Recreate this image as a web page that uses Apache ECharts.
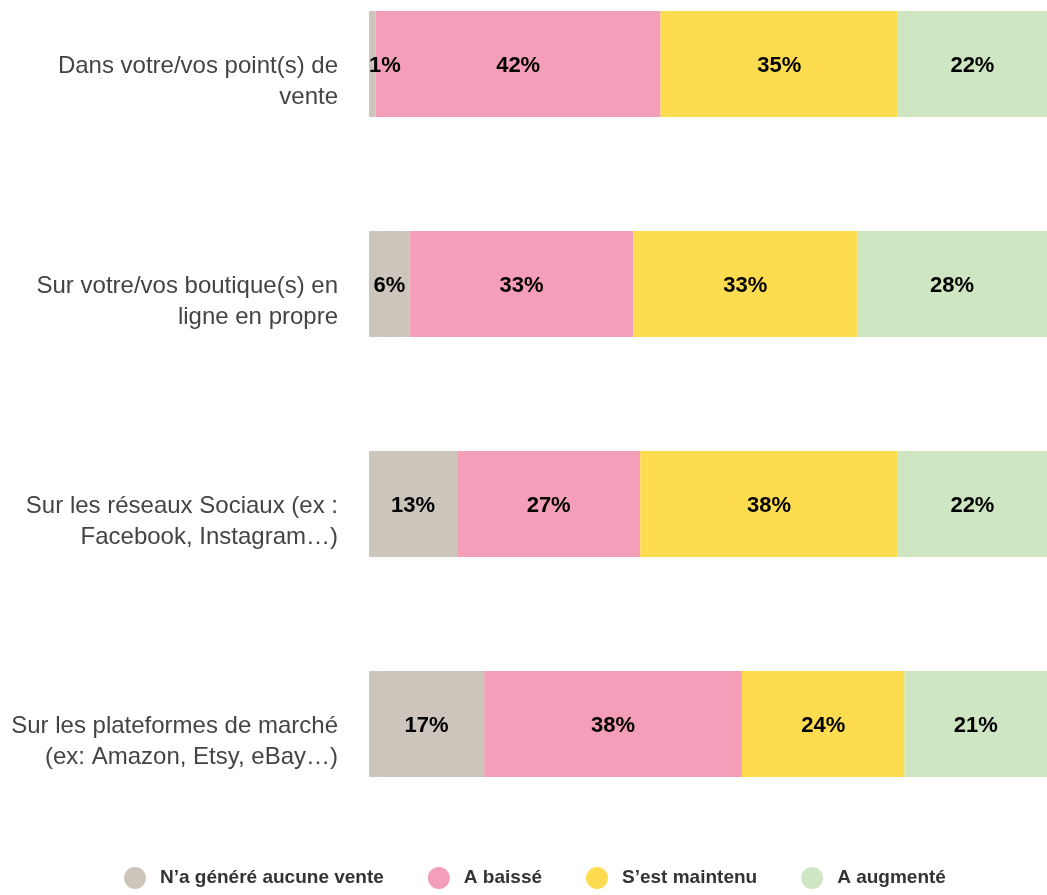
<!DOCTYPE html>
<html>
<head>
<meta charset="utf-8">
<script src="https://cdn.jsdelivr.net/npm/echarts@6/dist/echarts.min.js"></script>
<style>
  html, body { margin: 0; padding: 0; background: #fff; }
  #chart { width: 1047px; height: 895px; }
</style>
</head>
<body>
<div id="chart"></div>
<script>
// catégories (de haut en bas)
const categories = [
  'Dans votre/vos point(s) de\nvente',
  'Sur votre/vos boutique(s) en\nligne en propre',
  'Sur les réseaux Sociaux (ex :\nFacebook, Instagram…)',
  'Sur les plateformes de marché\n(ex: Amazon, Etsy, eBay…)'
];

const seriesNames = ['N’a généré aucune vente', 'A baissé', 'S’est maintenu', 'A augmenté'];
const seriesColors = ['#CCC5BB', '#F59EB9', '#FEDC50', '#CFE6C2'];

// valeurs en %
const aucune = [1, 6, 13, 17];
const baisse = [42, 33, 27, 38];
const maintenu = [35, 33, 38, 24];
const augmente = [22, 28, 22, 21];

const allValues = [aucune, baisse, maintenu, augmente];

const boldFont = '"Liberation Sans Narrow", "Liberation Sans", Arial, sans-serif';

function makeSeries(i) {
  return {
    name: seriesNames[i],
    type: 'bar',
    stack: 'total',
    barWidth: 106,
    clip: false,
    itemStyle: { color: seriesColors[i] },
    label: {
      show: true,
      position: 'inside',
      offset: [0, 2],
      formatter: '{c}%',
      color: '#000',
      fontFamily: boldFont,
      fontWeight: 'bold',
      fontSize: 22
    },
    emphasis: { disabled: true },
    // le 1% est collé au bord gauche
    data: allValues[i].map(v => v < 3
      ? { value: v, label: { position: 'insideLeft', distance: 0 } }
      : v)
  };
}

// les libellés sont un peu plus bas que le centre des barres -> 2e grille décalée
let myChart = echarts.init(document.getElementById('chart'));
myChart.setOption({
  animation: false,
  grid: [
    { left: 369, right: 0, top: 64, height: 660 },
    { left: 369, right: 0, top: 82, height: 660 }
  ],
  xAxis: [
    { type: 'value', min: 0, max: 100, show: false, gridIndex: 0 },
    { type: 'value', min: 0, max: 100, show: false, gridIndex: 1 }
  ],
  yAxis: [
    {
      type: 'category',
      gridIndex: 0,
      inverse: true,
      boundaryGap: false,
      data: categories,
      axisLine: { show: false },
      axisTick: { show: false },
      splitLine: { show: false },
      axisLabel: { show: false }
    },
    {
      type: 'category',
      gridIndex: 1,
      inverse: true,
      boundaryGap: false,
      data: categories,
      axisLine: { show: false },
      axisTick: { show: false },
      splitLine: { show: false },
      axisLabel: {
        margin: 31,
        fontFamily: '"Liberation Sans", Arial, sans-serif',
        fontSize: 24,
        color: '#444',
        lineHeight: 31,
        align: 'right'
      }
    }
  ],
  legend: {
    bottom: 1,
    left: 119,
    icon: 'circle',
    itemWidth: 22,
    itemHeight: 22,
    itemGap: 44,
    textStyle: {
      fontFamily: boldFont,
      fontWeight: 'bold',
      fontSize: 19,
      color: '#333',
      padding: [0, 0, 0, 9]
    },
    data: seriesNames
  },
  series: [0, 1, 2, 3].map(makeSeries)
});
window.addEventListener('resize', function () {
  myChart.resize();
});
</script>
</body>
</html>
